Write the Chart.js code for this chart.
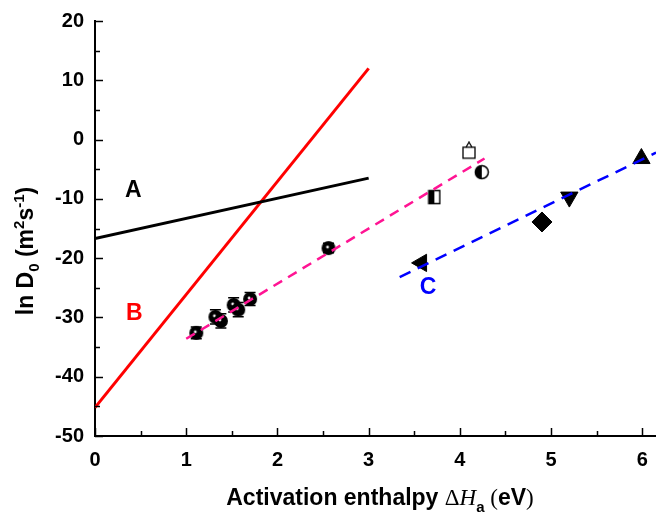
<!DOCTYPE html>
<html>
<head>
<meta charset="utf-8">
<script src="https://cdn.jsdelivr.net/npm/chart.js@4/dist/chart.umd.min.js"></script>
<style>
html,body{margin:0;padding:0;background:#fff;}
#c{display:block;}
</style>
</head>
<body>
<canvas id="c" width="656" height="515"></canvas>
<script>
// ---- data ----
const xTicks = [0, 1, 2, 3, 4, 5, 6];
const yTicks = [-50, -40, -30, -20, -10, 0, 10, 20];

const lineA_x = [0, 3];
const lineA_y = [-16.7, -6.5];
const lineB_x = [0, 3];
const lineB_y = [-45.2, 12.0];

const fitPink_x = [1.0, 4.27];
const fitPink_y = [-33.6, -3.2];
const fitBlue_x = [3.34, 6.15];
const fitBlue_y = [-23.2, -2.2];

const clusterX = [1.11, 1.32, 1.38, 1.52, 1.57, 1.70, 2.56];
const clusterY = [-32.6, -29.9, -30.6, -27.9, -28.7, -26.9, -18.3];
const clusterErr = [1.0, 1.2, 1.2, 1.2, 1.2, 1.1, 0.8];

const halfSquareX = [3.72], halfSquareY = [-9.7];
const halfCircleX = [4.24], halfCircleY = [-5.5];
const houseX = [4.10], houseY = [-2.3];

const leftTriX = [3.58], leftTriY = [-20.8];
const diamondX = [4.90], diamondY = [-13.9];
const downTriX = [5.20], downTriY = [-9.7];
const upTriX = [5.99], upTriY = [-3.2];

const labelText = ['A', 'B', 'C'];
const labelX = [0.42, 0.43, 3.65];
const labelY = [-8.7, -29.3, -25.0];
const labelColor = ['#000000', '#ff0000', '#0000ff'];

// ---- helpers ----
const pts = (xs, ys) => xs.map((x, i) => ({x: x, y: ys[i]}));

function mk(w, h, draw) {
  const c = document.createElement('canvas');
  c.width = w; c.height = h;
  draw(c.getContext('2d'));
  return c;
}
const clusterMarker = mk(16, 16, g => {
  g.fillStyle = '#000';
  g.beginPath(); g.arc(8, 8, 7, 0, Math.PI * 2); g.fill();
  g.fillStyle = '#eeeeee';
  g.beginPath(); g.arc(7, 7, 1.4, 0, Math.PI * 2); g.fill();
});
const halfSquareMarker = mk(14, 16, g => {
  g.fillStyle = '#fff'; g.fillRect(1.5, 1.5, 11, 13);
  g.fillStyle = '#000'; g.fillRect(1.5, 1.5, 5.5, 13);
  g.strokeStyle = '#000'; g.lineWidth = 1.5; g.strokeRect(1.5, 1.5, 11, 13);
});
const halfCircleMarker = mk(16, 16, g => {
  g.fillStyle = '#fff';
  g.beginPath(); g.arc(8, 8, 6.5, 0, Math.PI * 2); g.fill();
  g.fillStyle = '#000';
  g.beginPath(); g.arc(8, 8, 6.5, Math.PI / 2, Math.PI * 1.5); g.closePath(); g.fill();
  g.strokeStyle = '#000'; g.lineWidth = 1.5;
  g.beginPath(); g.arc(8, 8, 6.5, 0, Math.PI * 2); g.stroke();
});
const houseMarker = mk(16, 24, g => {
  g.strokeStyle = '#000'; g.lineWidth = 1.3; g.fillStyle = '#fff';
  g.fillRect(2, 6, 12, 11); g.strokeRect(2, 6, 12, 11);
  g.beginPath(); g.moveTo(5, 6); g.lineTo(8, 1); g.lineTo(11, 6); g.stroke();
});

// ---- plugin for ticks, error bars, labels, titles ----
const decor = {
  id: 'decor',
  beforeDatasetsDraw(chart) {
    const {ctx, scales: {x, y}} = chart;
    ctx.save();
    ctx.strokeStyle = '#000';
    ctx.lineWidth = 1.5;
    for (let i = 0; i < clusterX.length; i++) {
      const px = x.getPixelForValue(clusterX[i]);
      const p1 = y.getPixelForValue(clusterY[i] + clusterErr[i]);
      const p2 = y.getPixelForValue(clusterY[i] - clusterErr[i]);
      ctx.beginPath();
      ctx.moveTo(px, p1); ctx.lineTo(px, p2);
      ctx.moveTo(px - 5.5, p1); ctx.lineTo(px + 5.5, p1);
      ctx.moveTo(px - 5.5, p2); ctx.lineTo(px + 5.5, p2);
      ctx.stroke();
    }
    ctx.restore();
  },
  afterDraw(chart) {
    const {ctx, scales: {x, y}, chartArea: ca} = chart;
    ctx.save();
    // inner ticks
    ctx.strokeStyle = '#000';
    ctx.lineWidth = 1.5;
    for (let v = 0; v <= 6.001; v += 0.5) {
      const px = Math.round(x.getPixelForValue(v)) + 0.5;
      const len = Math.abs(v - Math.round(v)) < 1e-6 ? 8 : 5;
      ctx.beginPath(); ctx.moveTo(px, ca.bottom); ctx.lineTo(px, ca.bottom - len); ctx.stroke();
    }
    for (let v = -50; v <= 20.001; v += 5) {
      const py = Math.round(y.getPixelForValue(v)) + 0.5;
      const len = (v % 10 === 0) ? 8 : 5;
      ctx.beginPath(); ctx.moveTo(ca.left, py); ctx.lineTo(ca.left + len, py); ctx.stroke();
    }
    // A, B, C labels
    ctx.font = 'bold 23px "Liberation Sans", Arial, sans-serif';
    ctx.textAlign = 'center';
    ctx.textBaseline = 'middle';
    for (let i = 0; i < labelText.length; i++) {
      ctx.fillStyle = labelColor[i];
      ctx.fillText(labelText[i], x.getPixelForValue(labelX[i]), y.getPixelForValue(labelY[i]));
    }
    ctx.fillStyle = '#000';
    ctx.textBaseline = 'alphabetic';
    ctx.textAlign = 'left';
    // y title (rotated, rich text)
    const bigY = 'bold 23px "Liberation Sans", Arial, sans-serif';
    const smallY = 'bold 15px "Liberation Sans", Arial, sans-serif';
    const ySegs = [
      {t: 'ln D', f: bigY, dy: 0},
      {t: '0', f: smallY, dy: 6},
      {t: ' (m', f: bigY, dy: 0},
      {t: '2', f: smallY, dy: -9},
      {t: 's', f: bigY, dy: 0},
      {t: '-1', f: smallY, dy: -9},
      {t: ')', f: bigY, dy: 0}
    ];
    drawRich(ctx, ySegs, 33, 251, -Math.PI / 2);
    // x title
    const bigX = 'bold 23px "Liberation Sans", Arial, sans-serif';
    const serifX = '23px "Liberation Serif", "Times New Roman", serif';
    const serifIX = 'italic 23px "Liberation Serif", "Times New Roman", serif';
    const smallX = 'bold 15px "Liberation Sans", Arial, sans-serif';
    const xSegs = [
      {t: 'Activation enthalpy ', f: bigX, dy: 0},
      {t: '\u0394', f: serifX, dy: 0},
      {t: 'H', f: serifIX, dy: 0},
      {t: 'a', f: smallX, dy: 7},
      {t: ' (', f: serifX, dy: 0},
      {t: 'eV', f: bigX, dy: 0},
      {t: ')', f: serifX, dy: 0}
    ];
    drawRich(ctx, xSegs, 380, 505, 0);
    ctx.restore();
  }
};
function drawRich(ctx, segs, cx, baseY, rot) {
  let total = 0;
  segs.forEach(s => { ctx.font = s.f; s.w = ctx.measureText(s.t).width; total += s.w; });
  ctx.save();
  ctx.translate(cx, baseY);
  ctx.rotate(rot);
  let pos = -total / 2;
  segs.forEach(s => { ctx.font = s.f; ctx.fillText(s.t, pos, s.dy); pos += s.w; });
  ctx.restore();
}

const tickFont = {family: '"Liberation Sans", Arial, sans-serif', size: 20, weight: 'bold'};

new Chart(document.getElementById('c'), {
  type: 'scatter',
  data: {
    datasets: [
      {data: pts(lineA_x, lineA_y), showLine: true, borderColor: '#000', borderWidth: 3, pointRadius: 0, order: 3},
      {data: pts(lineB_x, lineB_y), showLine: true, borderColor: '#ff0000', borderWidth: 3, pointRadius: 0, order: 3},
      {data: pts(fitPink_x, fitPink_y), showLine: true, borderColor: '#ff1493', borderWidth: 2.5, borderDash: [10, 7], pointRadius: 0, order: 0},
      {data: pts(fitBlue_x, fitBlue_y), showLine: true, borderColor: '#0000ff', borderWidth: 2.5, borderDash: [12, 8], pointRadius: 0, order: 0},
      {data: pts(clusterX, clusterY), pointStyle: clusterMarker, order: 5},
      {data: pts(halfSquareX, halfSquareY), pointStyle: halfSquareMarker, order: 5},
      {data: pts(halfCircleX, halfCircleY), pointStyle: halfCircleMarker, order: 5},
      {data: pts(houseX, houseY), pointStyle: houseMarker, order: 5},
      {data: pts(leftTriX, leftTriY), pointStyle: 'triangle', rotation: -90, pointRadius: 10, backgroundColor: '#000', borderColor: '#000', borderWidth: 1, order: 5},
      {data: pts(diamondX, diamondY), pointStyle: 'rectRot', pointRadius: 10, backgroundColor: '#000', borderColor: '#000', borderWidth: 1, order: 5},
      {data: pts(downTriX, downTriY), pointStyle: 'triangle', rotation: 180, pointRadius: 10, backgroundColor: '#000', borderColor: '#000', borderWidth: 1, order: 5},
      {data: pts(upTriX, upTriY), pointStyle: 'triangle', pointRadius: 10, backgroundColor: '#000', borderColor: '#000', borderWidth: 1, order: 5}
    ]
  },
  options: {
    responsive: false,
    animation: false,
    devicePixelRatio: 1,
    layout: {autoPadding: false, padding: {top: 21, right: 0, left: 0, bottom: 0}},
    plugins: {legend: {display: false}, tooltip: {enabled: false}},
    scales: {
      x: {
        type: 'linear', min: 0, max: 6.15,
        grid: {display: false, drawTicks: false},
        border: {display: true, color: '#000', width: 2},
        ticks: {font: tickFont, color: '#000', padding: 12, maxRotation: 0},
        afterBuildTicks: s => { s.ticks = xTicks.map(v => ({value: v})); },
        afterFit: s => { s.height = 79; s.paddingRight = 0; s.paddingLeft = 0; }
      },
      y: {
        type: 'linear', min: -50, max: 20,
        grid: {display: false, drawTicks: false},
        border: {display: true, color: '#000', width: 2},
        ticks: {font: tickFont, color: '#000', padding: 11},
        afterBuildTicks: s => { s.ticks = yTicks.map(v => ({value: v})); },
        afterFit: s => { s.width = 95; s.paddingTop = 0; s.paddingBottom = 0; }
      }
    }
  },
  plugins: [decor]
});
</script>
</body>
</html>
